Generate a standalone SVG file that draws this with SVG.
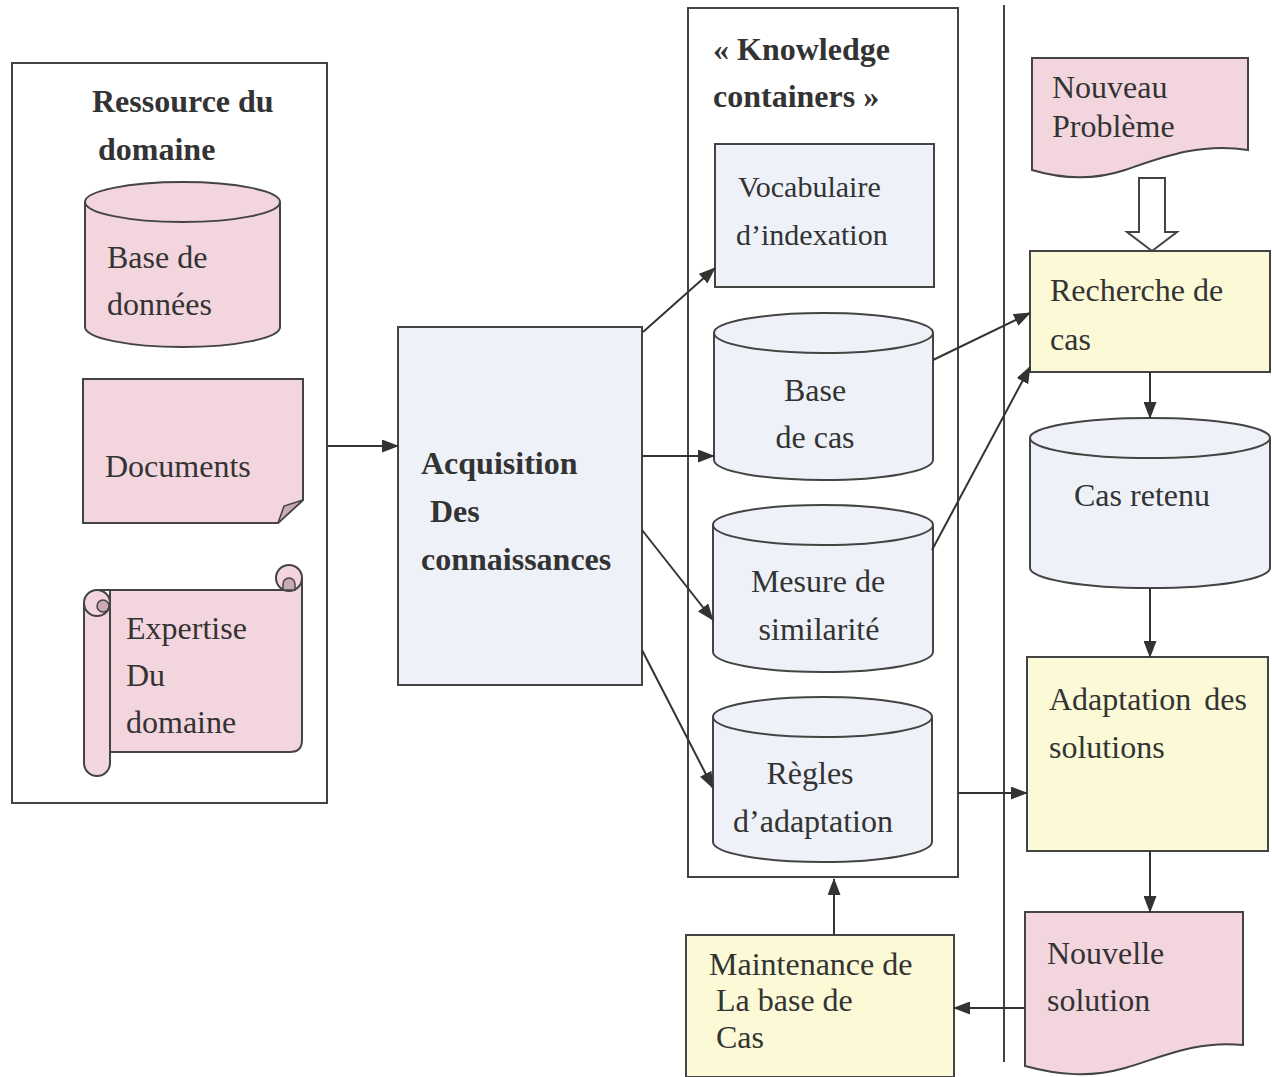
<svg xmlns="http://www.w3.org/2000/svg" width="1272" height="1077" viewBox="0 0 1272 1077">
<defs>
<marker id="ah" markerUnits="userSpaceOnUse" markerWidth="17" markerHeight="13" refX="16" refY="6.5" orient="auto">
<path d="M0,0 L17,6.5 L0,13 Z" fill="#333"/>
</marker>
<style>
.t{font-family:"Liberation Serif","Times New Roman",serif;font-size:32px;fill:#333}
.s{font-size:30px}
.b{font-weight:bold}
.c{text-anchor:middle}
.frame{fill:none;stroke:#444;stroke-width:2}
.pink{fill:#f3d5de;stroke:#444;stroke-width:2}
.blue{fill:#eef2f8;stroke:#444;stroke-width:2}
.yel{fill:#fbf9d6;stroke:#444;stroke-width:2}
.dark{fill:#c9a9b5;stroke:#444;stroke-width:1.5}
.ln{fill:none;stroke:#333;stroke-width:2;marker-end:url(#ah)}
</style>
</defs>
<rect width="1272" height="1077" fill="#fff"/>

<g id="ressource">
<rect class="frame" x="12" y="63" width="315" height="740"/>
<text class="t b" x="92" y="112">Ressource du</text>
<text class="t b" x="98" y="160">domaine</text>
</g>

<g id="base-donnees">
<path class="pink" d="M85,202 A97.5,20 0 0 1 280,202 V327 A97.5,20 0 0 1 85,327 Z"/>
<path class="frame" d="M85,202 A97.5,20 0 0 0 280,202"/>
<text class="t" x="107" y="268">Base de</text>
<text class="t" x="107" y="315">données</text>
</g>

<g id="documents">
<path class="pink" d="M83,379 H303 V500 L278,523 H83 Z"/>
<path class="dark" d="M278,523 L284,506 L303,500 Z"/>
<text class="t" x="105" y="477">Documents</text>
</g>

<g id="expertise">
<path class="pink" d="M97,590 H289 A13,13 0 0 1 302,578 V740 Q302,752 290,752 H110 V590 Z"/>
<circle class="pink" cx="289" cy="578" r="13"/>
<path class="dark" d="M283,590 V584 A6,6 0 0 1 295,584 V590 Z"/>
<path class="pink" d="M84,603 V763 A13,13 0 0 0 110,763 V603 Z"/>
<circle class="pink" cx="97" cy="603" r="13"/>
<circle class="dark" cx="103" cy="606" r="6"/>
<text class="t" x="126" y="639">Expertise</text>
<text class="t" x="126" y="686">Du</text>
<text class="t" x="126" y="733">domaine</text>
</g>

<g id="acquisition">
<rect class="blue" x="398" y="327" width="244" height="358"/>
<text class="t b" x="421" y="474">Acquisition</text>
<text class="t b" x="430" y="522">Des</text>
<text class="t b" x="421" y="570">connaissances</text>
</g>

<g id="knowledge">
<rect class="frame" x="688" y="8" width="270" height="869"/>
<text class="t b" x="713" y="60">« Knowledge</text>
<text class="t b" x="713" y="107">containers »</text>
</g>

<g id="vocabulaire">
<rect class="blue" x="715" y="144" width="219" height="143"/>
<text class="t s" x="738" y="197">Vocabulaire</text>
<text class="t s" x="736" y="245">d’indexation</text>
</g>

<g id="base-cas">
<path class="blue" d="M714,333 A109.5,20 0 0 1 933,333 V460 A109.5,20 0 0 1 714,460 Z"/>
<path class="frame" d="M714,333 A109.5,20 0 0 0 933,333"/>
<text class="t c" x="815" y="401">Base</text>
<text class="t c" x="815" y="448">de cas</text>
</g>

<g id="mesure">
<path class="blue" d="M713,525 A110,20 0 0 1 933,525 V652 A110,20 0 0 1 713,652 Z"/>
<path class="frame" d="M713,525 A110,20 0 0 0 933,525"/>
<text class="t c" x="818" y="592">Mesure de</text>
<text class="t c" x="819" y="640">similarité</text>
</g>

<g id="regles">
<path class="blue" d="M713,717 A109.5,20 0 0 1 932,717 V842 A109.5,20 0 0 1 713,842 Z"/>
<path class="frame" d="M713,717 A109.5,20 0 0 0 932,717"/>
<text class="t c" x="810" y="784">Règles</text>
<text class="t c" x="813" y="832">d’adaptation</text>
</g>

<g id="separator">
<line x1="1004" y1="5" x2="1004" y2="1062" stroke="#444" stroke-width="2"/>
</g>

<g id="nouveau-probleme">
<path class="pink" d="M1032,58 H1248 V150 C1200,142 1160,158 1125,170 C1095,180 1062,179 1032,170 Z"/>
<text class="t" x="1052" y="98">Nouveau</text>
<text class="t" x="1052" y="137">Problème</text>
</g>

<g id="recherche">
<rect class="yel" x="1030" y="251" width="240" height="121"/>
<text class="t" x="1050" y="301">Recherche de</text>
<text class="t" x="1050" y="350">cas</text>
</g>

<g id="cas-retenu">
<path class="blue" d="M1030,438 A120,20 0 0 1 1270,438 V568 A120,20 0 0 1 1030,568 Z"/>
<path class="frame" d="M1030,438 A120,20 0 0 0 1270,438"/>
<text class="t c" x="1142" y="506">Cas retenu</text>
</g>

<g id="adaptation">
<rect class="yel" x="1027" y="657" width="241" height="194"/>
<text class="t" x="1049" y="710" word-spacing="5">Adaptation des</text>
<text class="t" x="1049" y="758">solutions</text>
</g>

<g id="nouvelle-solution">
<path class="pink" d="M1025,912 H1243 V1045 C1195,1040 1160,1058 1125,1068 C1090,1078 1058,1075 1025,1066 Z"/>
<text class="t" x="1047" y="964">Nouvelle</text>
<text class="t" x="1047" y="1011">solution</text>
</g>

<g id="maintenance">
<rect class="yel" x="686" y="935" width="268" height="142"/>
<text class="t" x="709" y="975">Maintenance de</text>
<text class="t" x="716" y="1011">La base de</text>
<text class="t" x="716" y="1048">Cas</text>
</g>

<g id="connectors">
<line class="ln" x1="327" y1="446" x2="398" y2="446"/>
<line class="ln" x1="643" y1="332" x2="715" y2="268"/>
<line class="ln" x1="642" y1="456" x2="714" y2="456"/>
<line class="ln" x1="642" y1="530" x2="713" y2="620"/>
<line class="ln" x1="642" y1="650" x2="713" y2="788"/>
<line class="ln" x1="933" y1="360" x2="1030" y2="313"/>
<line class="ln" x1="932" y1="550" x2="1030" y2="367"/>
<line class="ln" x1="1150" y1="372" x2="1150" y2="418"/>
<line class="ln" x1="1150" y1="588" x2="1150" y2="657"/>
<line class="ln" x1="958" y1="793" x2="1027" y2="793"/>
<line class="ln" x1="1150" y1="851" x2="1150" y2="912"/>
<line class="ln" x1="1025" y1="1008" x2="954" y2="1008"/>
<line class="ln" x1="834" y1="935" x2="834" y2="879"/>
<path d="M1139,178 H1165 V232 H1177 L1152,251 L1127,232 H1139 Z" fill="#fff" stroke="#444" stroke-width="2"/>
</g>
</svg>
